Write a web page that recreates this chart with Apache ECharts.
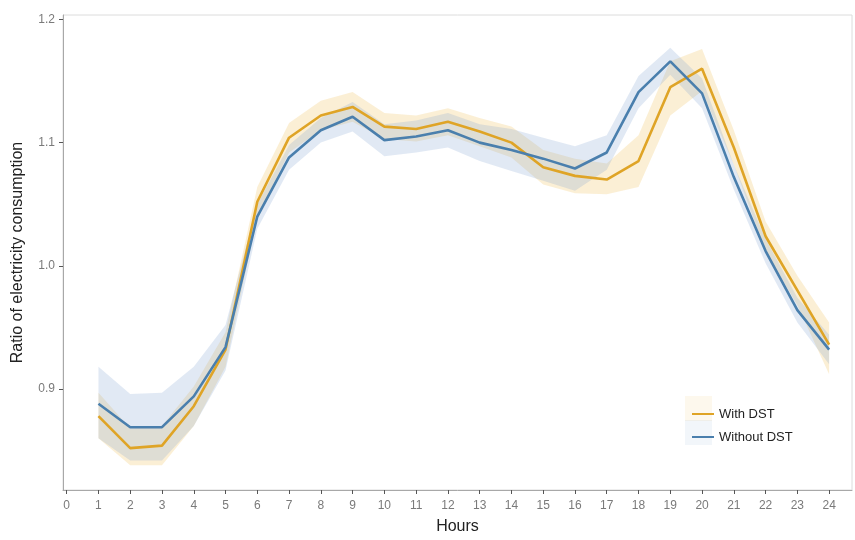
<!DOCTYPE html>
<html>
<head>
<meta charset="utf-8">
<script src="https://cdn.jsdelivr.net/npm/echarts@6/dist/echarts.min.js"></script>
<style>
  html, body { margin: 0; padding: 0; background: #ffffff; }
  #chart { width: 855px; height: 540px; }
</style>
</head>
<body>
<div id="chart"></div>
<script>
// Hourly ratio of electricity consumption, with and without daylight saving time
const hours = [1, 2, 3, 4, 5, 6, 7, 8, 9, 10, 11, 12, 13, 14, 15, 16, 17, 18, 19, 20, 21, 22, 23, 24];
const xTicks = [0, 1, 2, 3, 4, 5, 6, 7, 8, 9, 10, 11, 12, 13, 14, 15, 16, 17, 18, 19, 20, 21, 22, 23, 24];
const yTicks = [0.9, 1.0, 1.1, 1.2];

const withDst      = [0.878, 0.852, 0.854, 0.886, 0.932, 1.052, 1.104, 1.122, 1.129, 1.113, 1.111, 1.117,
                      1.109, 1.100, 1.080, 1.073, 1.070, 1.085, 1.145, 1.160, 1.096, 1.024, 0.980, 0.936];
const withDstLow   = [0.860, 0.838, 0.838, 0.870, 0.918, 1.040, 1.092, 1.110, 1.117, 1.103, 1.101, 1.106,
                      1.097, 1.088, 1.066, 1.059, 1.058, 1.064, 1.122, 1.142, 1.082, 1.012, 0.968, 0.912];
const withDstHigh  = [0.897, 0.868, 0.870, 0.902, 0.946, 1.064, 1.116, 1.134, 1.141, 1.124, 1.122, 1.128,
                      1.120, 1.113, 1.094, 1.087, 1.083, 1.106, 1.166, 1.176, 1.110, 1.036, 0.992, 0.954];

const withoutDst     = [0.888, 0.869, 0.869, 0.894, 0.934, 1.040, 1.088, 1.110, 1.121, 1.102, 1.105, 1.110,
                        1.100, 1.094, 1.087, 1.079, 1.092, 1.141, 1.166, 1.140, 1.072, 1.012, 0.964, 0.932];
const withoutDstLow  = [0.860, 0.842, 0.842, 0.870, 0.915, 1.030, 1.078, 1.100, 1.109, 1.089, 1.092, 1.096,
                        1.085, 1.077, 1.069, 1.061, 1.078, 1.128, 1.155, 1.128, 1.062, 1.002, 0.954, 0.920];
const withoutDstHigh = [0.918, 0.896, 0.897, 0.918, 0.952, 1.050, 1.098, 1.120, 1.133, 1.115, 1.118, 1.124,
                        1.115, 1.111, 1.104, 1.097, 1.106, 1.154, 1.177, 1.152, 1.082, 1.022, 0.974, 0.944];

const COLOR_WITH = '#DFA426';
const COLOR_WITHOUT = '#4A7FAD';
const FONT = 'Liberation Sans, Arial, sans-serif';

function pairs(xs, ys) {
  return xs.map((x, i) => [x, ys[i]]);
}

// Confidence ribbon: polygon along the upper bound, back along the lower bound
function ribbon(name, low, high, fill) {
  return {
    type: 'custom',
    name: name + ' band',
    silent: true,
    z: 1,
    data: [[hours[0], low[0]]],
    renderItem: function (params, api) {
      const pts = [];
      for (let i = 0; i < hours.length; i++) pts.push(api.coord([hours[i], high[i]]));
      for (let i = hours.length - 1; i >= 0; i--) pts.push(api.coord([hours[i], low[i]]));
      return {
        type: 'polygon',
        shape: { points: pts },
        style: { fill: fill, stroke: null }
      };
    }
  };
}

const chart = echarts.init(document.getElementById('chart'), null, { renderer: 'canvas' });

const tickLabelStyle = { color: '#7a7a7a', fontSize: 12, fontFamily: FONT };
const axisNameStyle = { color: '#222222', fontSize: 16, fontFamily: FONT };

chart.setOption({
  animation: false,
  backgroundColor: '#ffffff',
  grid: {
    left: 63, right: 3, top: 15, bottom: 43,
    show: true, borderColor: '#dcdcdc', borderWidth: 1, backgroundColor: 'transparent'
  },
  xAxis: {
    type: 'value',
    min: -0.116, max: 24.72,
    name: 'Hours',
    nameLocation: 'middle',
    nameGap: 29,
    nameTextStyle: axisNameStyle,
    axisLine: { show: true, onZero: false, lineStyle: { color: '#a8a8a8', width: 1 } },
    axisTick: { show: true, length: 4, customValues: xTicks, lineStyle: { color: '#555555' } },
    axisLabel: { customValues: xTicks, margin: 10, ...tickLabelStyle },
    splitLine: { show: false }
  },
  yAxis: {
    type: 'value',
    min: 0.818, max: 1.2036,
    name: 'Ratio of electricity consumption',
    nameLocation: 'middle',
    nameGap: 37,
    nameTextStyle: axisNameStyle,
    axisLine: { show: true, onZero: false, lineStyle: { color: '#a8a8a8', width: 1 } },
    axisTick: { show: true, length: 4, customValues: yTicks, lineStyle: { color: '#555555' } },
    axisLabel: { customValues: yTicks, margin: 8, formatter: v => v.toFixed(1), ...tickLabelStyle },
    splitLine: { show: false }
  },
  legend: {
    orient: 'vertical',
    left: 687, top: 402,
    itemWidth: 22, itemHeight: 2,
    itemGap: 9,
    icon: 'rect',
    textStyle: { color: '#222222', fontSize: 13, lineHeight: 14, fontFamily: FONT },
    data: [
      { name: 'With DST', itemStyle: { color: COLOR_WITH } },
      { name: 'Without DST', itemStyle: { color: COLOR_WITHOUT } }
    ]
  },
  graphic: [
    { type: 'rect', left: 685, top: 396, shape: { width: 27, height: 25 }, style: { fill: 'rgba(240,190,80,0.10)' }, z: 0, silent: true },
    { type: 'rect', left: 685, top: 420, shape: { width: 27, height: 25 }, style: { fill: 'rgba(130,165,210,0.10)' }, z: 0, silent: true }
  ],
  series: [
    ribbon('With DST', withDstLow, withDstHigh, 'rgba(240,190,80,0.24)'),
    ribbon('Without DST', withoutDstLow, withoutDstHigh, 'rgba(130,165,210,0.24)'),
    {
      type: 'line', name: 'With DST', z: 3,
      data: pairs(hours, withDst),
      showSymbol: false,
      lineStyle: { color: COLOR_WITH, width: 2.6 },
      itemStyle: { color: COLOR_WITH }
    },
    {
      type: 'line', name: 'Without DST', z: 4,
      data: pairs(hours, withoutDst),
      showSymbol: false,
      lineStyle: { color: COLOR_WITHOUT, width: 2.6 },
      itemStyle: { color: COLOR_WITHOUT }
    }
  ]
});
</script>
</body>
</html>
